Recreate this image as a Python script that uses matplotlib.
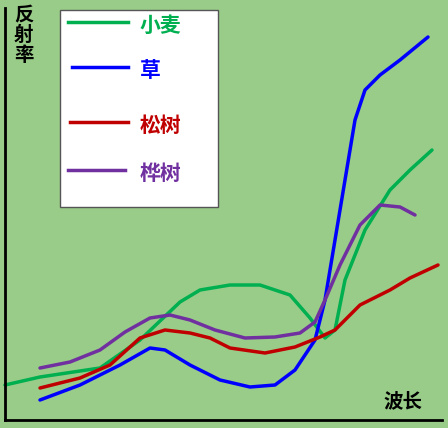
import matplotlib
matplotlib.use("Agg")
import matplotlib.pyplot as plt
plt.rcParams['font.family'] = ['Noto Sans CJK SC', 'DejaVu Sans']

wheat_x = [5, 40, 100, 140, 180, 200, 230, 260, 290, 310, 325, 335, 345, 365, 390, 410, 432]
wheat_y = [385, 377, 368, 340, 302, 290, 285, 285, 295, 318, 338, 330, 280, 230, 190, 170, 150]
grass_x = [40, 80, 120, 150, 165, 190, 220, 250, 275, 295, 315, 325, 340, 355, 365, 380, 400, 428]
grass_y = [400, 385, 365, 348, 350, 365, 380, 387, 385, 370, 340, 300, 210, 120, 90, 75, 60, 37]
pine_x = [40, 80, 110, 140, 165, 190, 210, 230, 265, 295, 320, 335, 360, 390, 410, 438]
pine_y = [388, 378, 365, 338, 330, 333, 338, 348, 353, 347, 337, 330, 305, 290, 278, 265]
birch_x = [40, 70, 100, 125, 150, 170, 190, 215, 245, 275, 300, 315, 325, 340, 360, 380, 400, 415]
birch_y = [368, 362, 350, 332, 318, 315, 320, 330, 338, 337, 333, 322, 300, 265, 225, 205, 207, 215]

names = ['小麦', '草', '松树', '桦树']
colors = ['#00B050', '#0000FF', '#C00000', '#7030A0']
series = [(wheat_x, wheat_y), (grass_x, grass_y), (pine_x, pine_y), (birch_x, birch_y)]

fig = plt.figure(figsize=(4.48, 4.28), dpi=100)
fig.patch.set_facecolor('white')
ax = fig.add_axes([0, 0, 1, 1])
ax.set_xlim(0, 448)
ax.set_ylim(428, 0)
ax.axis('off')
ax.add_patch(plt.Rectangle((0, 0), 448, 428, color='#99CC88', zorder=0))

for (x, y), c in zip(series, colors):
    ax.plot(x, y, color=c, lw=2.5, solid_joinstyle='round', solid_capstyle='round', zorder=3)

# axes
ax.plot([5, 5], [420, 8], color='black', lw=2, zorder=4)
ax.plot([5, 442], [420, 420], color='black', lw=2, zorder=4)
ax.text(14, 6, '反\n射\n率', fontsize=14, fontweight='bold', va='top', ha='left', linespacing=1.05)
ax.text(383, 402, '波长', fontsize=14, fontweight='bold', va='center', ha='left')

# legend
ax.add_patch(plt.Rectangle((60, 10), 158, 197, facecolor='white', edgecolor='#555555', lw=1, zorder=5))
ly = [22, 67, 122, 170]
lx = [(68, 128), (72, 128), (70, 128), (68, 125)]
for (x0, x1), yy, c, n in zip(lx, ly, colors, names):
    ax.plot([x0, x1], [yy, yy], color=c, lw=2.5, zorder=6)
    ax.text(140, yy + 3, n, color=c, fontsize=15, fontweight='bold', va='center', ha='left', zorder=6)

fig.savefig('out.png', dpi=100)
